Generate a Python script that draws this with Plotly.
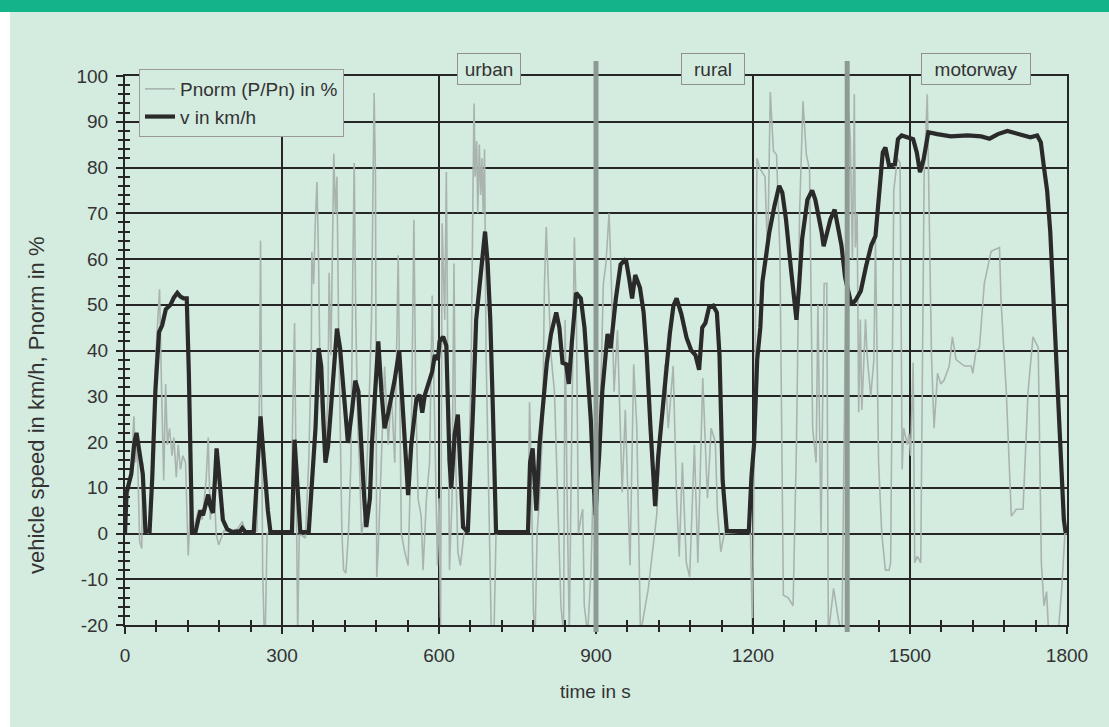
import plotly.graph_objects as go

# ---------------- data ----------------
time_v = [0, 3, 12, 18, 22, 26, 30, 34, 37, 39, 47, 52, 58, 62, 65, 71, 78, 87, 93, 100, 106, 112, 118, 122, 125, 128,
          135, 140, 144, 149, 155, 159, 163, 168, 172, 175, 178, 181, 187, 195, 205, 220, 224, 230, 246, 252, 259, 264,
          268, 273, 278, 319, 324, 328, 332, 335, 351, 358, 364, 370, 375, 379, 383, 388, 394, 399, 405, 411, 418, 426,
          434, 440, 446, 452, 457, 461, 468, 472, 477, 484, 490, 496, 503, 509, 515, 524, 530, 535, 538, 541, 547, 552,
          557, 563, 568, 573, 580, 587, 592, 598, 601, 608, 614, 617, 620, 623.5, 627, 630, 636, 641, 646, 655, 660,
          665, 671, 681, 688, 693, 698, 703, 709, 770, 774, 779, 783, 786, 792, 798, 806, 814, 824, 830, 836, 843, 848,
          854, 862, 871, 878, 884, 890, 895, 899, 903, 906, 912, 922, 928, 938, 947, 957, 963, 969, 975, 984, 991, 997,
          1004, 1013, 1019, 1026, 1032, 1041, 1048, 1054, 1063, 1073, 1082, 1090, 1097, 1103, 1109, 1116, 1124, 1131,
          1136, 1142, 1150, 1192, 1197, 1202, 1208, 1214, 1218, 1224, 1231, 1241, 1250, 1256, 1263, 1272, 1277, 1283,
          1288, 1294, 1304, 1313, 1319, 1325, 1331, 1335, 1341, 1348, 1356, 1363, 1369, 1376, 1382, 1388, 1396, 1406,
          1416, 1426, 1434, 1442, 1448, 1453, 1460, 1471, 1477, 1484, 1497, 1506, 1513, 1519, 1526, 1535, 1552, 1578,
          1610, 1636, 1652, 1668, 1686, 1707, 1730, 1743, 1750, 1756, 1762, 1768, 1772, 1777, 1783, 1790, 1794, 1797,
          1800]
speed_v = [0, 9, 13, 20, 22, 19, 16, 13, 6, 0.5, 0.5, 12, 31, 40, 44, 45.5, 49, 50, 51.5, 52.6, 51.8, 51.4, 51.4, 35,
           15, 0.5, 0.5, 3, 5, 4, 7, 8.5, 6, 4.5, 12, 18.6, 15, 11.5, 3, 1, 0.3, 0.5, 1.2, 0.3, 0.3, 12, 25.6, 18, 12,
           5, 0.3, 0.3, 20.5, 14, 7.6, 0.3, 0.3, 12, 23, 40.5, 36.5, 25, 15.5, 19, 28, 36.5, 44.8, 40.5, 31, 19.8, 27,
           33.4, 31, 17, 8, 1.4, 7.7, 20, 31, 42, 31, 23, 26.4, 29.5, 33.4, 40, 29.5, 20, 15.5, 8.4, 19.4, 25, 29.5,
           30.3, 26.4, 30.3, 33, 35.4, 39, 38, 42, 43, 41, 28, 16, 10, 16, 21.7, 26, 15.5, 1.4, 0.3, 12, 27, 46.7, 57.7,
           66, 59, 46.7, 27, 0.3, 0.3, 15.5, 18.6, 10, 5, 19.4, 27, 37.3, 43.6, 48.3, 45, 37.3, 37, 32.7, 42, 52.6,
           51.4, 45, 35, 25, 12, 4, 12, 17, 31, 43.6, 40.5, 51.4, 58.8, 60, 56, 51.4, 56.5, 53.7, 48.3, 39, 23.3, 6, 17,
           25.6, 35, 43.6, 49.8, 51.4, 48, 42.8, 40, 39, 35.8, 45, 46, 49.4, 49.8, 48.3, 39, 11.6, 0.5, 0.5, 12.3, 19.4,
           38, 45, 55, 60, 65.7, 71.6, 76, 74.5, 68.7, 58.4, 52, 46.7, 54, 64.5, 73, 75, 73, 70, 66, 62.8, 65.7, 68.7,
           70.8, 67, 63, 56, 53, 50, 51, 53, 58.4, 63, 65, 74.5, 83.3, 84.4, 80.4, 80.7, 86.2, 87, 86.6, 86.2, 83.3, 79,
           81.8, 87.7, 87.3, 86.8, 87, 86.8, 86.3, 87.3, 88, 87.3, 86.6, 87, 85.5, 80, 75, 66, 56, 44, 31, 15, 3, 0.5,
           0.5]

time_p = [0, 4.5, 11, 17, 20, 23.5, 28, 32, 34, 38, 44.5, 51, 57, 62, 66, 70, 74, 77.6, 81, 85, 90, 93.5, 98, 101.7,
          106, 110.6, 115.7, 120.8, 125, 131.6, 141, 147.5, 155, 159, 163, 170, 174, 179, 189, 200, 215, 224, 230, 252,
          257, 259, 261, 263, 266, 268, 271.5, 278, 318, 320, 324, 327, 330, 333, 344.6, 351, 356, 357, 360.5, 363.6,
          366.8, 370, 373, 377.6, 382.6, 388, 390, 393.5, 399, 402, 405, 408, 411, 414.5, 417.7, 422, 427, 431.7, 435,
          438, 441, 445, 448, 452, 458, 465, 471, 474, 476, 478.6, 481, 483.7, 490, 496, 503, 509, 515.5, 522, 525,
          528, 534.5, 541, 547, 552, 555.5, 560, 566, 569.5, 576, 582, 587, 592, 597, 600, 603, 606, 611, 614, 617,
          620, 625, 628.6, 632, 636, 641, 647.7, 655, 661.7, 665, 667, 669, 672, 674, 677, 679.5, 682, 684.5, 687, 690,
          693.5, 696.6, 700, 705, 709, 770, 773, 776, 780.5, 783.7, 787.5, 792, 798, 801.5, 805, 809, 814, 820.6, 827,
          833, 838, 841, 844.8, 849, 853.7, 858.7, 862.6, 866.4, 871.5, 874.6, 877.6, 884, 890.5, 894, 898, 903, 909,
          914, 919, 925, 929.5, 934.5, 941, 950, 956, 965, 972, 978, 985, 994, 1000, 1016, 1025.5, 1032, 1038, 1047.5,
          1054, 1059, 1065, 1072.6, 1079, 1088, 1094.6, 1104, 1113, 1120, 1128, 1132, 1138.5, 1145, 1195, 1199, 1202,
          1205, 1207.6, 1214, 1223, 1228, 1233, 1239, 1245, 1251.5, 1258, 1267, 1276.6, 1283, 1289, 1295.5, 1302,
          1308, 1314, 1320.6, 1324, 1330, 1336, 1341, 1344, 1354, 1363.5, 1370, 1376, 1383, 1386, 1390, 1393.6,
          1395.5, 1399, 1402, 1405, 1408, 1415, 1418, 1425, 1431, 1434, 1440, 1446, 1453, 1460, 1463, 1469, 1476,
          1481, 1485, 1488, 1495, 1498, 1501, 1506, 1509, 1514, 1520.5, 1527, 1533, 1538.5, 1541, 1546, 1552.6, 1559,
          1565, 1575, 1581, 1588, 1604, 1617, 1620, 1626, 1632.7, 1642, 1655, 1671, 1674, 1684, 1693.6, 1703, 1716,
          1725.6, 1735, 1745, 1751, 1756, 1761, 1765, 1783, 1790, 1796, 1800]
pnorm_p = [0, 7.7, 11.6, 25.6, 15.5, 19.4, -1.7, -3.3, 15.5, 3.7, 0, 7.7, 35, 46.7, 53.4, 31, 11.6, 32.7, 19.4, 23,
           17, 21, 12.3, 19.4, 14, 17, 15.5, -4.8, 5.3, 1.4, 5.3, 3, 11.6, 21, 3, 11.6, 0, -2.5, 0.6, 0.5, 1, 2.6, 0.5,
           0.5, 31, 64, 31, -8, -22, -22, 0, 0.5, 0.5, 23, 46, 7.7, -22, 0, -1, 15.5, 39, 61.5, 54.5, 67.8, 76.8, 59,
           31, 23, 15.5, 31, 57, 39, 83, 70, 78, 46.7, 23, 0, -8, -8.7, 0, 15.5, 54.5, 81, 46.7, 23, 15.5, 0, 3.7, 23,
           46.7, 71.7, 96.3, 78, -9.5, -4, 15.5, 36.5, 19.4, 31, 15.5, 60.8, 31, 0, -4, -7, 19.4, 68.6, 31, 7.7, 3.7,
           -8, 7.7, 15.5, 52, 23, -7, 7.7, -20, 67.8, 46.7, 79, 31, -8, 7.7, 59, 15.5, -4, -7, 0, 3, 39, 75.6, 94, 78,
           85.8, 70, 85, 74, 82, 70, 84, 39, 15.5, 0, -22, -22, 0, 0.5, 28.7, 15.5, -17.3, -22, 0, 7.7, 23, 54.5, 67,
           54.5, 39, 31, 7.7, -15.8, -22, 46.7, 7.7, -22, 23, 64.7, 46.7, 0, 3.7, 5.3, -15.8, -22, -8, 7.7, 4.5, 7, 31,
           54.6, 59, 70, 54.6, 31, 44.4, 9, 27, -7, 37, 23, -22, -16, -12, 4, 27, 37, 23, 36.6, 7.7, -5, 15.5, -6.4,
           -9.5, 19.4, -6.4, 34, 7.7, 23, 20, 5, -4, 0, 0.5, -22, 20, 60, 82, 79.6, 78, 60, 96.5, 83.6, 82.8, 61, -13.5,
           -14, -15.8, 19.4, 70, 94.5, 82.8, 79.6, 23, 15.5, 50, 0, 54.6, 54.7, -22, -12, -19, -22, 40, 92, 86, 60, 96,
           62.5, 70, 26.5, 46.8, 27, 46.8, 39, 30, 38, 64, 15.5, 0, -8, -8, -6.4, 75, 82, 81, 14, 23, 19.4, 21.8, 17,
           37.4, -6.4, -5, -6.4, 78, 96, 61, 39, 23, 35, 32.7, 33.5, 36.6, 43, 38, 36.6, 36.6, 35, 39.8, 40.6, 54.7,
           61.7, 62.5, 50.7, 31, 3.8, 5.3, 5.3, 31, 43, 40.6, -6.4, -15.8, -12.7, -22, -22, -12, 0, 0]

series_names = ["Pnorm (P/Pn) in %", "v in km/h"]
section_names = ["urban", "rural", "motorway"]
section_centers = [696, 1124, 1626]
section_boundaries = [900, 1380]
x_tick_values = [0, 300, 600, 900, 1200, 1500, 1800]
y_tick_values = [-20, -10, 0, 10, 20, 30, 40, 50, 60, 70, 80, 90, 100]

# ---------------- styling ----------------
BG = "#d4ebe0"
DARK = "#262626"
TXT = "#333333"
FONT = "Liberation Sans, Arial, sans-serif"
FS = 19

W, H = 1109, 727
ML, MR, MT, MB = 125, 42, 76, 102
PW, PH = W - ML - MR, H - MT - MB


def px_x(p):
    return (p - ML) / PW


def px_y(p):
    return (H - MB - p) / PH


fig = go.Figure()
fig.add_trace(go.Scatter(x=time_p, y=pnorm_p, mode="lines", name=series_names[0],
                         line=dict(color="#a9b4af", width=1.6)))
fig.add_trace(go.Scatter(x=time_v, y=speed_v, mode="lines", name=series_names[1],
                         line=dict(color="#2a2a2a", width=4.2)))
# empty trace so that the overlay axes (inner half of the crossing ticks) get drawn
fig.add_trace(go.Scatter(x=[], y=[], xaxis="x2", yaxis="y2", showlegend=False, hoverinfo="skip"))

common_x = dict(range=[0, 1800], tickmode="array", tickvals=x_tick_values,
                ticktext=[str(v) for v in x_tick_values],
                ticklen=7, tickwidth=2, tickcolor=DARK, zeroline=False)
common_y = dict(range=[-20, 100], tickmode="array", tickvals=y_tick_values,
                ticktext=[str(v) for v in y_tick_values],
                ticklen=7, tickwidth=2, tickcolor=DARK, zeroline=False)
minor_x = dict(tickmode="linear", tick0=0, dtick=60, ticklen=5, tickwidth=1.5, tickcolor=DARK, showgrid=False)
minor_y = dict(tickmode="linear", tick0=0, dtick=2, ticklen=5, tickwidth=1.5, tickcolor=DARK, showgrid=False)

fig.update_layout(
    width=W, height=H,
    margin=dict(l=ML, r=MR, t=MT, b=MB, pad=0),
    paper_bgcolor=BG, plot_bgcolor=BG,
    font=dict(family=FONT, size=FS, color=TXT),
    xaxis=dict(**common_x, ticks="outside", showgrid=True, gridcolor=DARK, gridwidth=1.5,
               showline=True, linecolor=DARK, linewidth=2, mirror=True,
               minor=dict(**minor_x, ticks="outside"),
               tickfont=dict(size=FS, color=TXT), ticklabelstandoff=5),
    yaxis=dict(**common_y, ticks="outside", showgrid=True, gridcolor=DARK, gridwidth=2,
               showline=True, linecolor=DARK, linewidth=2, mirror=True,
               minor=dict(**minor_y, ticks="outside"),
               tickfont=dict(size=FS, color=TXT), ticklabelstandoff=4),
    xaxis2=dict(**common_x, overlaying="x", anchor="y2", side="bottom", ticks="inside", showgrid=False,
                showline=False, showticklabels=False, minor=dict(**minor_x, ticks="inside")),
    yaxis2=dict(**common_y, overlaying="y", anchor="x2", side="left", ticks="inside", showgrid=False,
                showline=False, showticklabels=False, minor=dict(**minor_y, ticks="inside")),
    legend=dict(x=px_x(139), y=px_y(69), xanchor="left", yanchor="top", bgcolor=BG,
                bordercolor="#9a9a9a", borderwidth=1, font=dict(size=FS, color=TXT),
                itemwidth=30, tracegroupgap=0),
    showlegend=True,
)

shapes = [
    # green banner on top
    dict(type="rect", xref="paper", yref="paper", x0=px_x(-5), x1=px_x(W + 5), y0=px_y(12), y1=px_y(-5),
         fillcolor="#13b48a", line=dict(width=0), layer="below"),
    # white strip on the left
    dict(type="rect", xref="paper", yref="paper", x0=px_x(-5), x1=px_x(10), y0=px_y(H + 5), y1=px_y(12),
         fillcolor="#ffffff", line=dict(width=0), layer="below"),
]
for b in section_boundaries:
    shapes.append(dict(type="line", xref="x", yref="paper", x0=b, x1=b, y0=px_y(632), y1=px_y(61),
                       line=dict(color="#8e9b95", width=5), layer="above"))
fig.update_layout(shapes=shapes)

box_w = [64, 64, 110]
for name, cx, bw in zip(section_names, section_centers, box_w):
    fig.add_annotation(x=cx, y=px_y(69), xref="x", yref="paper", text=name, showarrow=False,
                       font=dict(size=FS, color=TXT, family=FONT), bgcolor=BG,
                       bordercolor="#8f8f8f", borderwidth=1, borderpad=2, width=bw - 6, height=26,
                       xanchor="center", yanchor="middle")

fig.add_annotation(text="time in s", xref="paper", yref="paper", x=px_x(595), y=px_y(691),
                   showarrow=False, font=dict(size=FS, color=TXT), xanchor="center", yanchor="middle")
fig.add_annotation(text="vehicle speed in km/h, Pnorm in %", xref="paper", yref="paper",
                   x=px_x(36), y=px_y(405), showarrow=False, textangle=-90,
                   font=dict(size=22, color=TXT), xanchor="center", yanchor="middle")

fig.write_html("out.html")
